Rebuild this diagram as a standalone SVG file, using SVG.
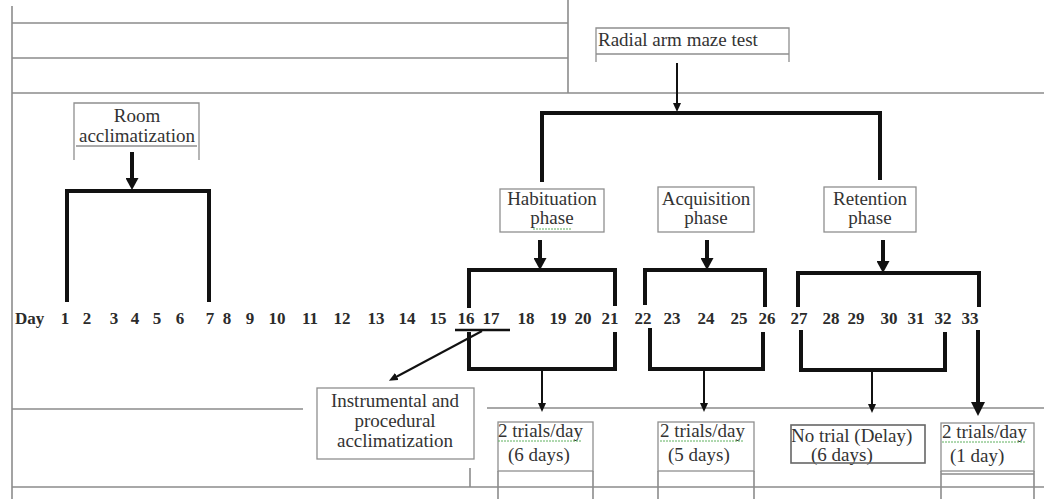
<svg xmlns="http://www.w3.org/2000/svg" width="1044" height="499" viewBox="0 0 1044 499">
<style>
.grid{stroke:#8c8c8c;stroke-width:1.6;fill:none}
.box{stroke:#8f8f8f;stroke-width:1.3;fill:#fff}
.boxo{stroke:#8f8f8f;stroke-width:1.3;fill:none}
.t{font-family:"Liberation Serif","Times New Roman",serif;font-size:19px;fill:#333}
.tc{text-anchor:middle}
.day{font-family:"Liberation Serif","Times New Roman",serif;font-size:17px;font-weight:bold;fill:#2b2b2b;text-anchor:middle}
.thick{stroke:#111;stroke-width:4;fill:none;stroke-linejoin:miter}
.thin{stroke:#111;stroke-width:2;fill:none}
.wavy{stroke:#5fb05f;stroke-width:1;fill:none;stroke-dasharray:2 1}
</style>
<defs>
<marker id="hk" markerUnits="userSpaceOnUse" markerWidth="13" markerHeight="13" refX="1" refY="6.5" orient="auto">
<path d="M0,0 L12,6.5 L0,13 z" fill="#111"/>
</marker>
<marker id="hb" markerUnits="userSpaceOnUse" markerWidth="15" markerHeight="15" refX="1" refY="7" orient="auto">
<path d="M0,0 L14,7 L0,14 z" fill="#111"/>
</marker>
<marker id="hs" markerUnits="userSpaceOnUse" markerWidth="10" markerHeight="9" refX="1" refY="4" orient="auto">
<path d="M0,0 L9,4 L0,8 z" fill="#111"/>
</marker>
</defs>
<rect width="1044" height="499" fill="#fff"/>
<g id="table">
<path class="grid" d="M12,6 V499"/>
<path class="grid" d="M12,23 H568 M12,58 H568 M568,0 V93 M12,93 H1044"/>
<path class="grid" d="M12,409 H303 M487,408 H1044 M470,468 V487 M12,487 H1044"/>
<path class="grid" d="M498,471 V499 M593,471 V499 M658,471 V499 M754,471 V499 M941,471 V499 M1034,471 V499 M941,474 H1034"/>
</g>
<g id="room">
<path class="boxo" d="M74,160 V103 H199 V160 M76,146 H197"/>
<text class="t tc" x="137" y="122">Room</text>
<text class="t tc" x="137" y="142">acclimatization</text>
</g>
<g id="radial">
<path class="boxo" d="M596,62 V28 H789 V62 M596,54 H789"/>
<text class="t" x="598" y="46">Radial arm maze test</text>
</g>
<g id="habituation">
<rect class="box" x="500" y="189" width="104" height="43"/>
<text class="t tc" x="552" y="205">Habituation</text>
<text class="t tc" x="552" y="224">phase</text>
<path class="wavy" d="M533,229 H572"/>
</g>
<g id="acquisition">
<rect class="box" x="658" y="187" width="96" height="45"/>
<text class="t tc" x="706" y="205">Acquisition</text>
<text class="t tc" x="706" y="224">phase</text>
</g>
<g id="retention">
<rect class="box" x="824" y="187" width="92" height="45"/>
<text class="t tc" x="870" y="205">Retention</text>
<text class="t tc" x="870" y="224">phase</text>
</g>
<g id="days">
<text class="day" x="15" y="324" style="text-anchor:start">Day</text>
<text class="day" x="65" y="324">1</text>
<text class="day" x="87" y="324">2</text>
<text class="day" x="114" y="324">3</text>
<text class="day" x="135" y="324">4</text>
<text class="day" x="157" y="324">5</text>
<text class="day" x="180" y="324">6</text>
<text class="day" x="210" y="324">7</text>
<text class="day" x="227" y="324">8</text>
<text class="day" x="250" y="324">9</text>
<text class="day" x="277" y="324">10</text>
<text class="day" x="310" y="324">11</text>
<text class="day" x="342" y="324">12</text>
<text class="day" x="376" y="324">13</text>
<text class="day" x="407" y="324">14</text>
<text class="day" x="438" y="324">15</text>
<text class="day" x="466" y="324">16</text>
<text class="day" x="491" y="324">17</text>
<text class="day" x="526" y="324">18</text>
<text class="day" x="558" y="324">19</text>
<text class="day" x="583" y="324">20</text>
<text class="day" x="610" y="324">21</text>
<text class="day" x="643" y="324">22</text>
<text class="day" x="672" y="324">23</text>
<text class="day" x="706" y="324">24</text>
<text class="day" x="739" y="324">25</text>
<text class="day" x="767" y="324">26</text>
<text class="day" x="799" y="324">27</text>
<text class="day" x="831" y="324">28</text>
<text class="day" x="856" y="324">29</text>
<text class="day" x="889" y="324">30</text>
<text class="day" x="916" y="324">31</text>
<text class="day" x="943" y="324">32</text>
<text class="day" x="970" y="324">33</text>
</g>
<g id="instrumental">
<rect class="box" x="317" y="388" width="157" height="71"/>
<text class="t tc" x="395" y="407">Instrumental and</text>
<text class="t tc" x="395" y="427">procedural</text>
<text class="t tc" x="395" y="447">acclimatization</text>
</g>
<g id="trials6">
<rect class="box" x="498" y="422" width="95" height="49"/>
<text class="t" x="498" y="437">2 trials/day</text>
<text class="t" x="508" y="461">(6 days)</text>
<path class="wavy" d="M498,441 H582"/>
</g>
<g id="trials5">
<rect class="box" x="658" y="422" width="96" height="49"/>
<text class="t" x="660" y="437">2 trials/day</text>
<text class="t" x="668" y="461">(5 days)</text>
<path class="wavy" d="M660,441 H744"/>
</g>
<g id="notrial">
<text class="t" x="791" y="442">No trial (Delay)</text>
<text class="t" x="811" y="461">(6 days)</text>
<rect class="boxo" x="791" y="425" width="134" height="38" style="stroke:#666;stroke-width:1.6"/>
</g>
<g id="trials1">
<rect class="box" x="941" y="423" width="93" height="48"/>
<text class="t" x="942" y="438">2 trials/day</text>
<text class="t" x="950" y="462">(1 day)</text>
<path class="wavy" d="M942,442 H1026"/>
</g>
<g id="connectors">
<path class="thick" d="M67,302 V191 H209 V302"/>
<path class="thick" d="M132,152 V179" marker-end="url(#hk)"/>
<path class="thin" d="M677,63 V104" marker-end="url(#hs)"/>
<path class="thick" d="M542,182 V113 H880 V180"/>
<path class="thick" d="M540,240 V259" marker-end="url(#hk)"/>
<path class="thick" d="M707,240 V259" marker-end="url(#hk)"/>
<path class="thick" d="M883,240 V262" marker-end="url(#hk)"/>
<path class="thick" d="M469,308 V270 H615 V306"/>
<path class="thick" d="M469,332 V369 H615 V332"/>
<path class="thick" d="M645,305 V270 H765 V307"/>
<path class="thick" d="M650,328 V369 H763 V332"/>
<path class="thick" d="M798,307 V273 H979 V307"/>
<path class="thick" d="M801,330 V370 H945 V332"/>
<path class="thin" d="M542,369 V404" marker-end="url(#hs)"/>
<path class="thin" d="M704,369 V404" marker-end="url(#hs)"/>
<path class="thin" d="M872,370 V405" marker-end="url(#hs)"/>
<path class="thick" d="M978,330 V403" marker-end="url(#hb)"/>
<path class="thin" d="M455,330 H510" style="stroke-width:2.5"/>
<path class="thin" d="M482,331 L396,377" marker-end="url(#hs)"/>
</g>
</svg>
